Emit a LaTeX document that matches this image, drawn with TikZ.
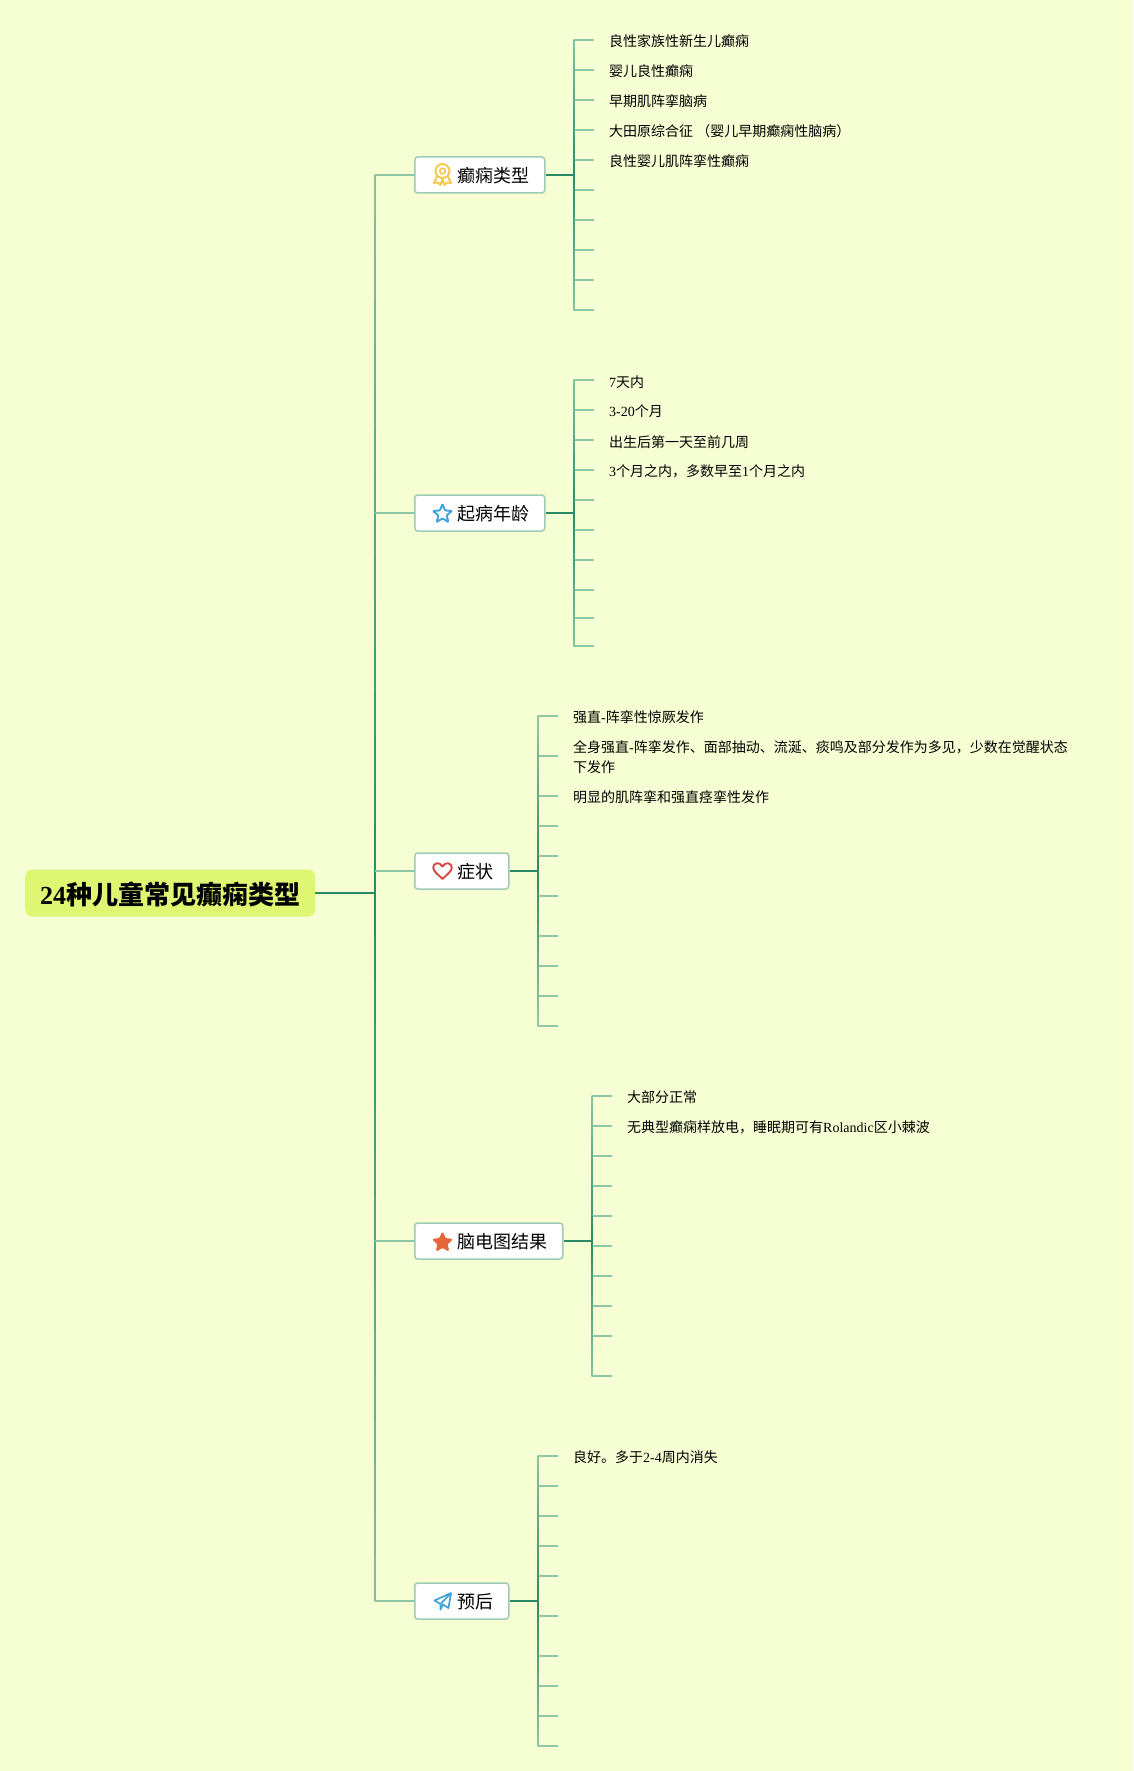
\documentclass[tikz,border=0pt]{standalone}
\usepackage{fontspec}
\setmainfont{Liberation Serif}
\newfontfamily\cjk{Noto Sans CJK SC}
\usetikzlibrary{calc,shapes.geometric}
\definecolor{bgc}{HTML}{F6FFD3}
\definecolor{dk}{HTML}{2A8A66}
\definecolor{lt}{HTML}{8FC7A6}
\definecolor{boxline}{HTML}{9FCAB6}
\definecolor{rootfill}{HTML}{DFF673}
\definecolor{gold}{HTML}{F5C84B}
\definecolor{skyc}{HTML}{3FA3DA}
\definecolor{redc}{HTML}{D2493F}
\definecolor{orangec}{HTML}{E4673A}
\newcommand{\zh}[1]{{\cjk #1}}
\tikzset{
  seg/.style={line width=1.7pt,line cap=round},
  stubline/.style={line width=1.6pt,color=lt},
  hubline/.style={line width=2pt,color=dk},
  rootbox/.style={fill=rootfill,rounded corners=7pt,inner xsep=15pt,inner ysep=0pt,minimum height=47pt,text height=22.9pt,text depth=0pt,font=\fontsize{26}{30}\selectfont\bfseries},
  topic/.style={draw=boxline,line width=1.5pt,fill=white,rounded corners=3pt,inner xsep=15pt,inner ysep=0pt,minimum height=36pt,text height=16pt,text depth=0.3pt,anchor=west,font=\fontsize{18}{22}\selectfont},
  leaf/.style={anchor=west,inner sep=0pt,align=left,font=\fontsize{14}{20}\selectfont},
  iconline/.style={line width=1.7pt,line join=round,fill=none},
}
\newcommand{\gradseg}[6]{%
  \foreach \k in {1,...,8}{%
    \pgfmathsetmacro\ta{(\k-1)/8}%
    \pgfmathsetmacro\tb{\k/8}%
    \pgfmathtruncatemacro\pc{max(0,100*(1-abs(#3+(#4-#3)*(\k-0.5)/8-#5)/#6))}%
    \draw[seg,color=dk!\pc!lt] ($(#1)!\ta!(#2)$) -- ($(#1)!\tb!(#2)$);
  }%
}
% #1 node, #2 bracket x, #3 hub y, #4 stub end x, #5 fade distance, #6 y list
\newcommand{\bracketlines}[6]{%
  \coordinate (#1-j) at (#2,#3);
  \foreach \y [count=\i, remember=\y as \py (initially 0)] in {#6}{%
    \coordinate (#1-b\i) at (#2,\y);
    \coordinate (#1-s\i) at (#4,\y);
    \ifnum\i>1
      \pgfmathtruncatemacro\j{\i-1}%
      \gradseg{#1-b\j}{#1-b\i}{\py}{\y}{#3}{#5}%
    \fi
    \draw[stubline] (#1-b\i) -- (#1-s\i);
  }
  \draw[hubline] (#1) -- (#1-j);
}
\begin{document}
\begin{tikzpicture}[x=1pt,y=-1pt]
\fill[bgc] (0,0) rectangle (1133,1771);
\useasboundingbox (0,0) rectangle (1133,1771);

% nodes
\node[rootbox,anchor=west] (root) at (25,893) {24\zh{种儿童常见癫痫类型}};
\node[topic] (n1) at (414,175) {\hspace*{28pt}\zh{癫痫类型}};
\node[topic] (n2) at (414,513) {\hspace*{28pt}\zh{起病年龄}};
\node[topic] (n3) at (414,871) {\hspace*{28pt}\zh{症状}};
\node[topic] (n4) at (414,1241) {\hspace*{28pt}\zh{脑电图结果}};
\node[topic] (n5) at (414,1601) {\hspace*{28pt}\zh{预后}};

% main trunk
\coordinate (t0) at (375,893);
\coordinate (t1) at (375,175);
\coordinate (t2) at (375,513);
\coordinate (t3) at (375,871);
\coordinate (t4) at (375,1241);
\coordinate (t5) at (375,1601);
\gradseg{t1}{t2}{175}{513}{893}{800}
\gradseg{t2}{t3}{513}{871}{893}{800}
\gradseg{t3}{t0}{871}{893}{893}{800}
\gradseg{t0}{t4}{893}{1241}{893}{800}
\gradseg{t4}{t5}{1241}{1601}{893}{800}
\draw[stubline] (t1) -- (n1);
\draw[stubline] (t2) -- (n2);
\draw[stubline] (t3) -- (n3);
\draw[stubline] (t4) -- (n4);
\draw[stubline] (t5) -- (n5);
\draw[hubline] (root) -- (t0);

% brackets
\bracketlines{n1}{574}{175}{594}{150}{40,70,100,130,160,190,220,250,280,310}
\bracketlines{n2}{574}{513}{594}{150}{380,410,440,470,500,530,560,590,618,646}
\bracketlines{n3}{538}{871}{558}{150}{716,756,796,826,856,896,936,966,996,1026}
\bracketlines{n4}{592}{1241}{612}{150}{1096,1126,1156,1186,1216,1246,1276,1306,1336,1376}
\bracketlines{n5}{538}{1601}{558}{150}{1456,1486,1516,1546,1576,1616,1656,1686,1716,1746}

% leaves
\node[leaf] (a1) at (609,41.5) {\zh{良性家族性新生儿癫痫}};
\node[leaf] (a2) at (609,71.5) {\zh{婴儿良性癫痫}};
\node[leaf] (a3) at (609,101.5) {\zh{早期肌阵挛脑病}};
\node[leaf] (a4) at (609,131.5) {\zh{大田原综合征 （婴儿早期癫痫性脑病）}};
\node[leaf] (a5) at (609,161.5) {\zh{良性婴儿肌阵挛性癫痫}};

\node[leaf] (b1) at (609,382) {7\zh{天内}};
\node[leaf] (b2) at (609,411.5) {3-20\zh{个月}};
\node[leaf] (b3) at (609,442) {\zh{出生后第一天至前几周}};
\node[leaf] (b4) at (609,471.5) {3\zh{个月之内，多数早至}1\zh{个月之内}};

\node[leaf] (c1) at (573,717.5) {\zh{强直}-\zh{阵挛性惊厥发作}};
\node[leaf] (c2) at (573,757.5) {\zh{全身强直}-\zh{阵挛发作、面部抽动、流涎、痰鸣及部分发作为多见，少数在觉醒状态}\\\zh{下发作}};
\node[leaf] (c3) at (573,797.5) {\zh{明显的肌阵挛和强直痉挛性发作}};

\node[leaf] (d1) at (627,1097.5) {\zh{大部分正常}};
\node[leaf] (d2) at (627,1127.5) {\zh{无典型癫痫样放电，睡眠期可有}Rolandic\zh{区小棘波}};

\node[leaf] (e1) at (573,1457.5) {\zh{良好。多于}2-4\zh{周内消失}};

% icons
% medal
\draw[gold,iconline,line width=1.9pt] (442.5,171) circle (7);
\draw[gold,iconline,line width=1.6pt] (442.5,171) circle (2.8);
\draw[gold,iconline,line width=1.9pt] (437,176.5) -- (434,183) -- (438,182.5) -- (440.5,185) -- (442.5,179.5) -- (444.5,185) -- (447,182.5) -- (451,183) -- (448,176.5);
% outline star
\node[star,star points=5,star point ratio=2.3,draw=skyc,line width=1.9pt,fill=none,minimum size=20pt,inner sep=0pt,rounded corners=1pt] (icon2) at (442.5,514) {};
% heart
\draw[redc,iconline,line width=1.9pt] (442.5,879) .. controls (437,873.5) and (433.2,871) .. (433.2,867.5) .. controls (433.2,862.5) and (440,861.5) .. (442.5,866.5) .. controls (445,861.5) and (451.8,862.5) .. (451.8,867.5) .. controls (451.8,871) and (448,873.5) .. (442.5,879) -- cycle;
% filled star
\node[star,star points=5,star point ratio=2.1,fill=orangec,draw=orangec,line width=1pt,minimum size=20.5pt,inner sep=0pt,rounded corners=1pt] (icon4) at (442.5,1242.5) {};
% paper plane
\draw[skyc,iconline] (451,1593) -- (434.5,1600.5) -- (440.5,1604) -- (451,1593) -- (448.5,1608) -- (443,1604.5) -- (440.5,1609.5) -- (440.5,1604);
\end{tikzpicture}
\end{document}
